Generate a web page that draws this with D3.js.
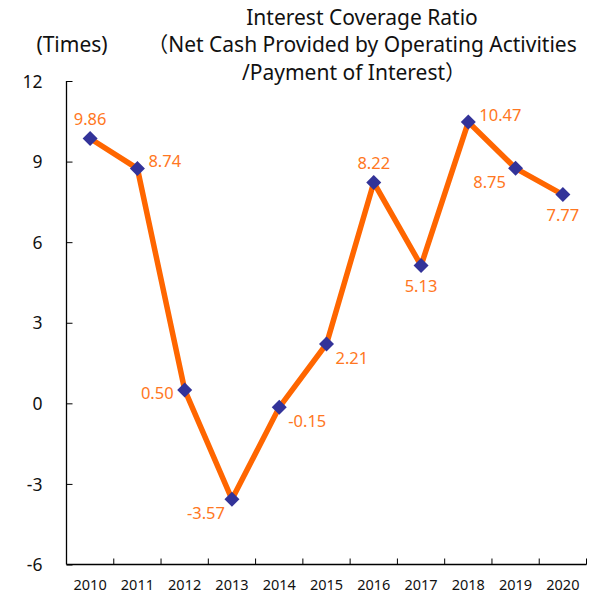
<!DOCTYPE html>
<html>
<head>
<meta charset="utf-8">
<script src="https://cdn.jsdelivr.net/npm/d3@7"></script>
<style>
  body { margin: 0; background: #fff; }
  text { font-family: "Noto Sans", "Noto Sans CJK JP", sans-serif; }
</style>
</head>
<body>
<svg id="chart" width="597" height="598"></svg>
<script>
// data
var years = ['2010', '2011', '2012', '2013', '2014', '2015', '2016', '2017', '2018', '2019', '2020'];
var ratios = [9.86, 8.74, 0.50, -3.57, -0.15, 2.21, 8.22, 5.13, 10.47, 8.75, 7.77];
var yTicks = [-6, -3, 0, 3, 6, 9, 12];
// where each value label sits relative to its marker
var labelPlace = ['top', 'right', 'left', 'bottomleft', 'bottomright', 'bottomright', 'top', 'bottom', 'right', 'bottomleft', 'bottom'];
var titleLines = ['Interest Coverage Ratio', '（Net Cash Provided by Operating Activities', '/Payment of Interest）'];

var svg = d3.select('#chart');
var plotL = 66.5, plotR = 586.5, plotT = 81, plotB = 564.5;
var loc = d3.formatLocale({ decimal: '.', thousands: ',', grouping: [3], currency: ['', ''], minus: '-' });

var x = d3.scaleBand().domain(years).range([plotL, plotR]);
var y = d3.scaleLinear().domain([-6, 12]).range([plotB, plotT]);

// title
svg.append('g').selectAll('text').data(titleLines).enter().append('text')
    .attr('x', function (d, i) { return i === 2 ? 354 : 362; })
    .attr('y', function (d, i) { return 24.5 + i * 27.5; })
    .attr('text-anchor', 'middle')
    .attr('font-size', 21)
    .attr('fill', '#111')
    .text(function (d) { return d; });

svg.append('text')
    .attr('x', 72).attr('y', 52)
    .attr('text-anchor', 'middle')
    .attr('font-size', 21)
    .attr('fill', '#111')
    .text('(Times)');

// y axis
var yAxis = d3.axisRight(y).tickValues(yTicks).tickSize(6).tickFormat(loc.format('d'));
var gy = svg.append('g').attr('transform', 'translate(' + plotL + ',0)').call(yAxis);
gy.select('.domain').attr('stroke', '#000').attr('stroke-width', 1.3).attr('d', 'M0,' + plotT + 'V' + plotB);
gy.selectAll('.tick line').attr('stroke', '#000');
gy.selectAll('.tick text')
    .attr('x', -24).attr('dy', '0.35em')
    .attr('text-anchor', 'end')
    .attr('font-size', 17.5)
    .attr('fill', '#111');

// x axis, ticks on category boundaries
var gx = svg.append('g').attr('transform', 'translate(0,' + plotB + ')');
gx.append('line').attr('x1', plotL).attr('x2', plotR).attr('stroke', '#000').attr('stroke-width', 1.3);
gx.selectAll('.bound').data(years).enter().append('line')
    .attr('class', 'bound')
    .attr('x1', function (d) { return x(d) + x.bandwidth(); })
    .attr('x2', function (d) { return x(d) + x.bandwidth(); })
    .attr('y1', 0).attr('y2', -6)
    .attr('stroke', '#000');
gx.selectAll('.lab').data(years).enter().append('text')
    .attr('class', 'lab')
    .attr('x', function (d) { return x(d) + x.bandwidth() / 2; })
    .attr('y', 25.5)
    .attr('text-anchor', 'middle')
    .attr('font-size', 14.5)
    .attr('fill', '#111')
    .text(function (d) { return d; });

// line
var pts = years.map(function (yr, i) { return { year: yr, v: ratios[i], place: labelPlace[i] }; });
var cx = function (d) { return x(d.year) + x.bandwidth() / 2; };

svg.append('path')
    .datum(pts)
    .attr('fill', 'none')
    .attr('stroke', '#ff6600')
    .attr('stroke-width', 5.5)
    .attr('stroke-linejoin', 'miter')
    .attr('d', d3.line().x(cx).y(function (d) { return y(d.v); }));

// markers
svg.append('g').selectAll('path').data(pts).enter().append('path')
    .attr('transform', function (d) { return 'translate(' + cx(d) + ',' + y(d.v) + ')'; })
    .attr('d', 'M0,-7.5L7.5,0L0,7.5L-7.5,0Z')
    .attr('fill', '#333399');

// value labels
var offs = {
    top: [0, -19, 'middle'],
    right: [11, -7, 'start'],
    left: [-11, 3, 'end'],
    bottom: [0, 21, 'middle'],
    bottomleft: [-26, 14, 'middle'],
    bottomright: [9, 14, 'start']
};
svg.append('g').selectAll('text').data(pts).enter().append('text')
    .attr('x', function (d) { return cx(d) + offs[d.place][0]; })
    .attr('y', function (d) { return y(d.v) + offs[d.place][1]; })
    .attr('dy', '0.35em')
    .attr('text-anchor', function (d) { return offs[d.place][2]; })
    .attr('font-size', 16.5)
    .attr('fill', '#ff7722')
    .text(function (d) { return loc.format('.2f')(d.v); });
</script>
</body>
</html>
